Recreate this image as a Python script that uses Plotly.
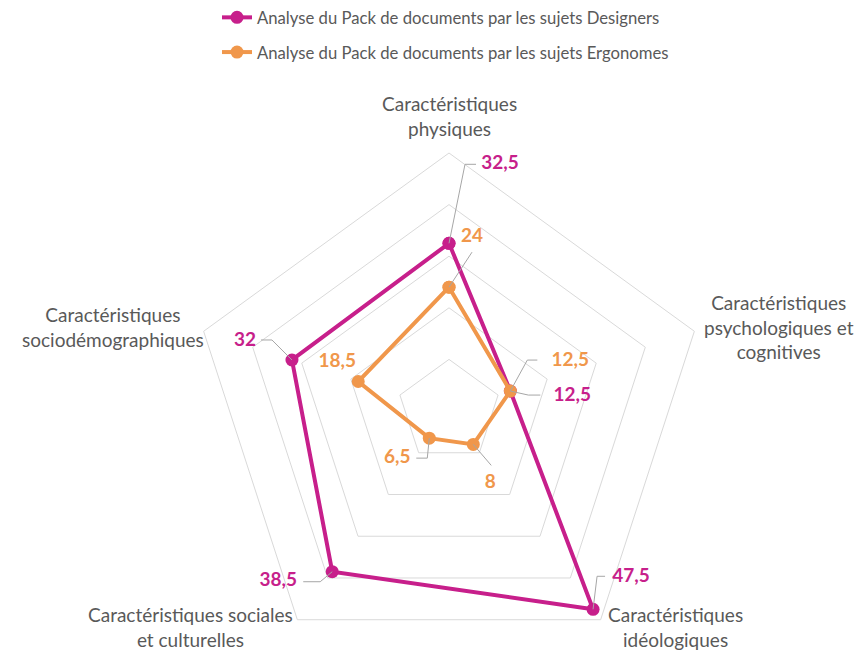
import math
import plotly.graph_objects as go

# ---------------- data ----------------
categories = [
    "Caractéristiques physiques",
    "Caractéristiques psychologiques et cognitives",
    "Caractéristiques idéologiques",
    "Caractéristiques sociales et culturelles",
    "Caractéristiques sociodémographiques",
]
category_labels = [
    "Caractéristiques<br>physiques",
    "Caractéristiques<br>psychologiques et<br>cognitives",
    "Caractéristiques<br>idéologiques",
    "Caractéristiques sociales<br>et culturelles",
    "Caractéristiques<br>sociodémographiques",
]
series_names = [
    "Analyse du Pack de documents par les sujets Designers",
    "Analyse du Pack de documents par les sujets Ergonomes",
]
designers = [32.5, 12.5, 47.5, 38.5, 32]
ergonomes = [24, 12.5, 8, 6.5, 18.5]

# ---------------- styles / positions ----------------
COLORS = ["#C71F8B", "#F0974B"]
GRID = "#D9D9D9"
LEADER = "#A6A6A6"
TEXT = "#595959"
FONT = "Lato"
RMAX = 50
RADIUS_PX = 258
PX = RADIUS_PX / RMAX  # pixels per radial unit
W, H = 856, 669
CX, CY = 449, 411
CAT_ANGLES = [90 - 72 * i for i in range(len(categories))]

# label placement: pixel offsets (dx right, dy down) from the data point
designer_leaders = [[(16, -79), (27, -79)], [(18, 4), (30, 4)], [(4, -33), (12, -33)],
                    [(-12, 10), (-29, 10)], [(-20, -20), (-31, -20)]]
designer_label_off = [(51, -79), (62, 5), (38, -32), (-54, 10), (-47, -19)]
ergo_leaders = [[(23, -35)], [(17, -31), (27, -31)], [(18, 21)], [(-2, 20), (-13, 20)], []]
ergo_label_off = [(23, -50), (60, -30), (17, 39), (-32, 20), (-21, -19)]
# category label centres in pixels (x from left, y from top)
cat_label_px = [(449, 116), (779, 327), (675, 627), (190, 627), (113, 327)]


def offset_polar(value, ang, dx, dy):
    x = value * PX * math.cos(math.radians(ang)) + dx
    y = value * PX * math.sin(math.radians(ang)) - dy
    return math.hypot(x, y) / PX, math.degrees(math.atan2(y, x))


def fmt(v):
    return f"{v:g}".replace(".", ",")


fig = go.Figure()

# leader lines (polar2, numeric angles)
for vals, leaders in [(designers, designer_leaders), (ergonomes, ergo_leaders)]:
    rr, tt = [], []
    for v, ang, pts in zip(vals, CAT_ANGLES, leaders):
        if not pts:
            continue
        rr.append(v); tt.append(ang)
        for dx, dy in pts:
            r, t = offset_polar(v, ang, dx, dy)
            rr.append(r); tt.append(t)
        rr.append(None); tt.append(None)
    fig.add_trace(go.Scatterpolar(r=rr, theta=tt, mode="lines", subplot="polar2",
                                  line=dict(color=LEADER, width=1), showlegend=False,
                                  hoverinfo="skip", connectgaps=False))

# main series
for name, vals, col in [(series_names[0], designers, COLORS[0]), (series_names[1], ergonomes, COLORS[1])]:
    fig.add_trace(go.Scatterpolar(
        r=vals + [vals[0]], theta=categories + [categories[0]], name=name,
        mode="lines+markers", subplot="polar", legendgroup=name,
        line=dict(color=col, width=4), marker=dict(color=col, size=13),
    ))

# value labels
for vals, offs, col in [(designers, designer_label_off, COLORS[0]), (ergonomes, ergo_label_off, COLORS[1])]:
    rr, tt, txt = [], [], []
    for v, ang, (dx, dy) in zip(vals, CAT_ANGLES, offs):
        r, t = offset_polar(v, ang, dx, dy)
        rr.append(r); tt.append(t); txt.append(fmt(v))
    fig.add_trace(go.Scatterpolar(r=rr, theta=tt, text=txt, mode="text", subplot="polar2",
                                  textposition="middle center", cliponaxis=False,
                                  textfont=dict(family=FONT, size=19, color=col, weight="bold"),
                                  showlegend=False, hoverinfo="skip"))

# category labels as annotations
for lbl, (px, py) in zip(category_labels, cat_label_px):
    fig.add_annotation(text=lbl, x=px / W, y=1 - py / H, xref="paper", yref="paper",
                       xanchor="center", yanchor="middle", align="center", showarrow=False,
                       font=dict(family=FONT, size=19, color=TEXT))

dom = dict(x=[(CX - RADIUS_PX) / W, (CX + RADIUS_PX) / W],
           y=[(H - CY - RADIUS_PX) / H, (H - CY + RADIUS_PX) / H])

fig.update_layout(
    width=W, height=H,
    margin=dict(l=0, r=0, t=0, b=0),
    paper_bgcolor="white", plot_bgcolor="white",
    font=dict(family=FONT, color=TEXT),
    polar=dict(
        domain=dom, gridshape="linear", bgcolor="rgba(0,0,0,0)",
        radialaxis=dict(range=[0, RMAX], dtick=10, showticklabels=False, ticks="",
                        showline=False, gridcolor=GRID, gridwidth=1),
        angularaxis=dict(rotation=90, direction="clockwise", showticklabels=False, ticks="",
                         showgrid=False, showline=True, linecolor=GRID, linewidth=1),
    ),
    polar2=dict(
        domain=dom, bgcolor="rgba(0,0,0,0)",
        radialaxis=dict(range=[0, RMAX], visible=False),
        angularaxis=dict(visible=False, rotation=0, direction="counterclockwise"),
    ),
    legend=dict(x=217 / W, xanchor="left", y=1, yanchor="top", orientation="v",
                traceorder="grouped", tracegroupgap=10,
                font=dict(family=FONT, size=16.7, color=TEXT), bgcolor="rgba(0,0,0,0)"),
    showlegend=True,
)

fig.write_html("out.html", config={"displayModeBar": False},
               post_script="document.body.style.margin='0';document.body.style.overflow='hidden';")
